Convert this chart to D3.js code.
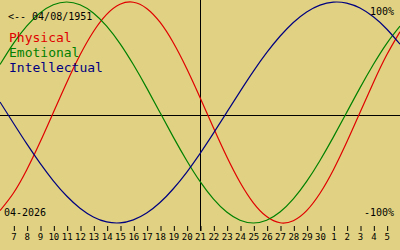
<!DOCTYPE html>
<html>
<head>
<meta charset="utf-8">
<script src="https://cdn.jsdelivr.net/npm/d3@7"></script>
<style>
  html, body { margin: 0; padding: 0; background: #e0d282; }
  svg { display: block; }
  text { font-family: "DejaVu Sans Mono", monospace; }
</style>
</head>
<body>
<svg></svg>
<script>
// day numbers along x (6 = edge left, 36 = edge right), 21 is today
const days = [6, 7, 8, 9, 10, 11, 12, 13, 14, 15, 16, 17, 18, 19, 20, 21,
  22, 23, 24, 25, 26, 27, 28, 29, 30, 31, 32, 33, 34, 35, 36];

const physical = [-0.888, -0.731, -0.520, -0.270, 0, 0.270, 0.520, 0.731, 0.888, 0.979,
  0.998, 0.942, 0.817, 0.631, 0.398, 0.136, -0.136, -0.398, -0.631, -0.817,
  -0.942, -0.998, -0.979, -0.888, -0.731, -0.520, -0.270, 0, 0.270, 0.520, 0.731];

const emotional = [0.434, 0.624, 0.782, 0.901, 0.975, 1, 0.975, 0.901, 0.782, 0.624,
  0.434, 0.223, 0, -0.223, -0.434, -0.624, -0.782, -0.901, -0.975, -1,
  -0.975, -0.901, -0.782, -0.624, -0.434, -0.223, 0, 0.223, 0.434, 0.624, 0.782];

const intellectual = [0.095, -0.095, -0.282, -0.458, -0.618, -0.756, -0.866, -0.945, -0.990, -0.999,
  -0.972, -0.910, -0.815, -0.690, -0.541, -0.372, -0.189, 0, 0.189, 0.372,
  0.541, 0.690, 0.815, 0.910, 0.972, 0.999, 0.990, 0.945, 0.866, 0.756, 0.618];

const tickDays = [7, 8, 9, 10, 11, 12, 13, 14, 15, 16, 17, 18, 19, 20, 21, 22, 23, 24, 25,
  26, 27, 28, 29, 30, 31, 32, 33, 34, 35];
const tickLabels = ["7", "8", "9", "10", "11", "12", "13", "14", "15", "16", "17", "18", "19",
  "20", "21", "22", "23", "24", "25", "26", "27", "28", "29", "30", "1", "2", "3", "4", "5"];

const today = 21;
const birthLabel = "<-- 04/08/1951";
const monthLabel = "04-2026";
const seriesNames = ["Physical", "Emotional", "Intellectual"];
const seriesColors = ["#e00000", "#008000", "#000080"];

const svgWidth = 400;
const svgHeight = 250;
const plotHeight = 230;

const svg = d3.select('svg')
  .attr('width', svgWidth)
  .attr('height', svgHeight);

const xScale = d3.scaleLinear()
  .domain([6, 36])
  .range([0, svgWidth]);

const yScale = d3.scaleLinear()
  .domain([-1, 1])
  .range([223, 2]);

const line = d3.line()
  .x((d) => xScale(d.day))
  .y((d) => yScale(d.value))
  .curve(d3.curveNatural);

// midline and today line
svg.append('line')
  .attr('x1', 0).attr('x2', svgWidth)
  .attr('y1', plotHeight / 2 + 0.5).attr('y2', plotHeight / 2 + 0.5)
  .attr('stroke', '#000')
  .attr('stroke-width', 1);

svg.append('line')
  .attr('x1', Math.round(xScale(today)) + 0.5).attr('x2', Math.round(xScale(today)) + 0.5)
  .attr('y1', 0).attr('y2', 231)
  .attr('stroke', '#000')
  .attr('stroke-width', 1);

// day axis
const axis = svg.append('g')
  .attr('transform', 'translate(0,226)')
  .call(d3.axisBottom(xScale)
    .tickValues(tickDays)
    .tickSize(5)
    .tickPadding(3)
    .tickFormat((d, i) => tickLabels[i]));
axis.select('.domain').remove();
axis.selectAll('.tick line')
  .attr('transform', 'translate(0.5,0)');
axis.selectAll('text')
  .attr('font-family', '"DejaVu Sans Mono", monospace')
  .attr('font-size', 9)
  .attr('fill', '#000');

// curves
[physical, emotional, intellectual].forEach((values, i) => {
  svg.append('path')
    .datum(values.map((v, j) => ({ day: days[j], value: v })))
    .attr('fill', 'none')
    .attr('stroke', seriesColors[i])
    .attr('stroke-width', 1.2)
    .attr('d', line);
});

// labels
svg.append('text')
  .attr('x', 8).attr('y', 20)
  .attr('font-size', 10)
  .attr('fill', '#000')
  .text(birthLabel);

seriesNames.forEach((name, i) => {
  svg.append('text')
    .attr('x', 9).attr('y', 42 + i * 15)
    .attr('font-size', 13)
    .attr('fill', seriesColors[i])
    .text(name);
});

svg.append('text')
  .attr('x', 394).attr('y', 15)
  .attr('text-anchor', 'end')
  .attr('font-size', 10)
  .attr('fill', '#000')
  .text("100%");

svg.append('text')
  .attr('x', 394).attr('y', 216)
  .attr('text-anchor', 'end')
  .attr('font-size', 10)
  .attr('fill', '#000')
  .text("-100%");

svg.append('text')
  .attr('x', 4).attr('y', 216)
  .attr('font-size', 10)
  .attr('fill', '#000')
  .text(monthLabel);
</script>
</body>
</html>
